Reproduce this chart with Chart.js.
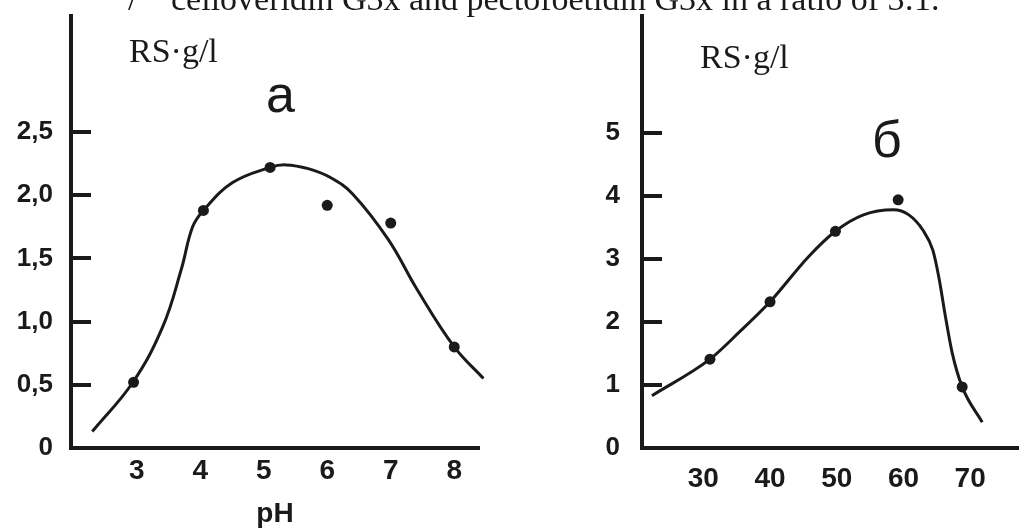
<!DOCTYPE html>
<html>
<head>
<meta charset="utf-8">
<script src="https://cdn.jsdelivr.net/npm/chart.js@4.4.1/dist/chart.umd.min.js"></script>
<style>
  body { margin: 0; background: #fff; }
  #wrap { position: relative; width: 1024px; height: 531px; overflow: hidden; background: #fff; }
  canvas { position: absolute; top: 0; }
  .lbl { position: absolute; white-space: nowrap; color: #1a1a1a; }
  .serif { font-family: "Liberation Serif", "DejaVu Serif", serif; font-size: 34px; line-height: 34px; }
  .big { font-family: "Liberation Sans", Arial, sans-serif; font-size: 52px; line-height: 52px; }
</style>
</head>
<body>
<div id="wrap">
  <canvas id="chart-a" width="512" height="531" style="left:0"></canvas>
  <canvas id="chart-b" width="512" height="531" style="left:512px"></canvas>

  <div class="lbl serif" style="left:128px; top:-18px">/</div>
  <div class="lbl serif" style="left:171px; top:-18px">celloveridin G3x and pectofoetidin G3x in a ratio of 3:1.</div>

  <div class="lbl serif" style="left:129px; top:34px">RS·g/l</div>
  <div class="lbl big" style="left:266px; top:68px">a</div>

  <div class="lbl serif" style="left:700px; top:40px">RS·g/l</div>
  <div class="lbl big" style="left:872px; top:113px">б</div>
</div>

<script>
'use strict';

// ******** DATA: panel a (pH) **************
let phPoints = [2.95, 4.05, 5.1, 6.0, 7.0, 8.0];
let rsPointsA = [0.52, 1.88, 2.22, 1.92, 1.78, 0.80];

let phCurve = [2.30, 2.94, 3.41, 3.70, 3.88, 4.05, 4.51, 5.10, 5.35, 5.70, 6.05, 6.40, 6.96, 7.42, 8.00, 8.46];
let rsCurveA = [0.13, 0.52, 0.96, 1.41, 1.75, 1.88, 2.10, 2.22, 2.24, 2.21, 2.14, 2.01, 1.65, 1.25, 0.80, 0.55];

let xTicksA = [3, 4, 5, 6, 7, 8];
let yTicksA = [0, 0.5, 1, 1.5, 2, 2.5];
let yTickLabelsA = ['0', '0,5', '1,0', '1,5', '2,0', '2,5'];

// ******** DATA: panel b (temperature) **************
let tPoints = [31, 40, 49.8, 59.2, 68.8];
let rsPointsB = [1.41, 2.32, 3.44, 3.94, 0.97];

let tCurve = [22.3, 31.0, 35.3, 40.0, 45.8, 49.8, 54.0, 58.5, 60.8, 62.9, 64.4, 65.3, 66.3, 67.3, 68.8, 71.8];
let rsCurveB = [0.83, 1.41, 1.83, 2.32, 3.04, 3.44, 3.70, 3.78, 3.70, 3.46, 3.14, 2.71, 2.08, 1.51, 0.97, 0.41];

let xTicksB = [30, 40, 50, 60, 70];
let yTicksB = [0, 1, 2, 3, 4, 5];
let yTickLabelsB = ['0', '1', '2', '3', '4', '5'];

// ******** STYLE **************
let ink = '#1a1a1a';
let tickFont = { family: '"Liberation Sans", Arial, sans-serif', weight: 'bold' };

function toXY(xs, ys) {
  return xs.map((x, i) => ({ x: x, y: ys[i] }));
}

// drop the label overhang padding so the plot box is exactly where we ask
function noScalePadding(s) {
  s.paddingTop = 0;
  s.paddingBottom = 0;
  s.paddingLeft = 0;
  s.paddingRight = 0;
}

// short tick marks pointing into the plot from the y axis
let innerTicks = {
  id: 'innerTicks',
  afterDraw(chart) {
    let ctx = chart.ctx;
    let scale = chart.scales.y;
    let left = chart.chartArea.left;
    ctx.save();
    ctx.strokeStyle = ink;
    ctx.lineWidth = 4;
    scale.ticks.forEach(t => {
      if (t.value === 0) return;
      let py = Math.round(scale.getPixelForValue(t.value));
      ctx.beginPath();
      ctx.moveTo(left, py);
      ctx.lineTo(left + 20, py);
      ctx.stroke();
    });
    ctx.restore();
  }
};

function makeChart(canvasId, cfg) {
  let datasets = [
    {
      data: toXY(cfg.curveX, cfg.curveY),
      showLine: true,
      borderColor: ink,
      borderWidth: 3,
      pointRadius: 0,
      tension: cfg.tension,
      cubicInterpolationMode: cfg.mode,
      clip: false
    },
    {
      data: toXY(cfg.pointX, cfg.pointY),
      showLine: false,
      pointRadius: 5.5,
      pointBackgroundColor: ink,
      pointBorderWidth: 0
    }
  ];

  return new Chart(document.getElementById(canvasId), {
    type: 'scatter',
    data: { datasets: datasets },
    options: {
      responsive: false,
      animation: false,
      devicePixelRatio: 1,
      layout: { padding: { top: 16, right: cfg.padRight, left: 0, bottom: 0 } },
      plugins: { legend: { display: false }, tooltip: { enabled: false } },
      scales: {
        x: {
          type: 'linear',
          min: cfg.xMin,
          max: cfg.xMax,
          afterBuildTicks: s => { s.ticks = cfg.xTicks.map(v => ({ value: v })); },
          afterFit: s => { s.height = 83; noScalePadding(s); },
          grid: { display: false, drawTicks: false },
          border: { display: true, width: 4, color: ink },
          ticks: {
            color: ink,
            padding: cfg.xPad,
            font: Object.assign({ size: 28 }, tickFont),
            maxRotation: 0,
            autoSkip: false,
            callback: v => String(v)
          },
          title: {
            display: !!cfg.xTitle,
            text: cfg.xTitle || '',
            color: ink,
            font: Object.assign({ size: 28 }, tickFont),
            padding: { top: 0, bottom: 0 }
          }
        },
        y: {
          type: 'linear',
          min: 0,
          max: cfg.yMax,
          afterBuildTicks: s => { s.ticks = cfg.yTicks.map(v => ({ value: v })); },
          afterFit: s => { s.width = cfg.yWidth; noScalePadding(s); },
          grid: { display: false, drawTicks: false },
          border: { display: true, width: 4, color: ink },
          ticks: {
            color: ink,
            padding: cfg.yPad,
            font: Object.assign({ size: 26 }, tickFont),
            autoSkip: false,
            callback: v => cfg.yLabels[cfg.yTicks.indexOf(v)]
          }
        }
      }
    },
    plugins: [innerTicks]
  });
}

makeChart('chart-a', {
  curveX: phCurve, curveY: rsCurveA,
  pointX: phPoints, pointY: rsPointsA,
  tension: 0.4, mode: 'default',
  xMin: 1.965, xMax: 8.39, xTicks: xTicksA, xPad: 6, xTitle: 'pH',
  yMax: 3.418, yTicks: yTicksA, yLabels: yTickLabelsA,
  yWidth: 71, yPad: 18, padRight: 33
});

makeChart('chart-b', {
  curveX: tCurve, curveY: rsCurveB,
  pointX: tPoints, pointY: rsPointsB,
  tension: 0.4, mode: 'monotone',
  xMin: 20.81, xMax: 77.24, xTicks: xTicksB, xPad: 14, xTitle: '',
  yMax: 6.857, yTicks: yTicksB, yLabels: yTickLabelsB,
  yWidth: 130, yPad: 22, padRight: 0
});
</script>
</body>
</html>
